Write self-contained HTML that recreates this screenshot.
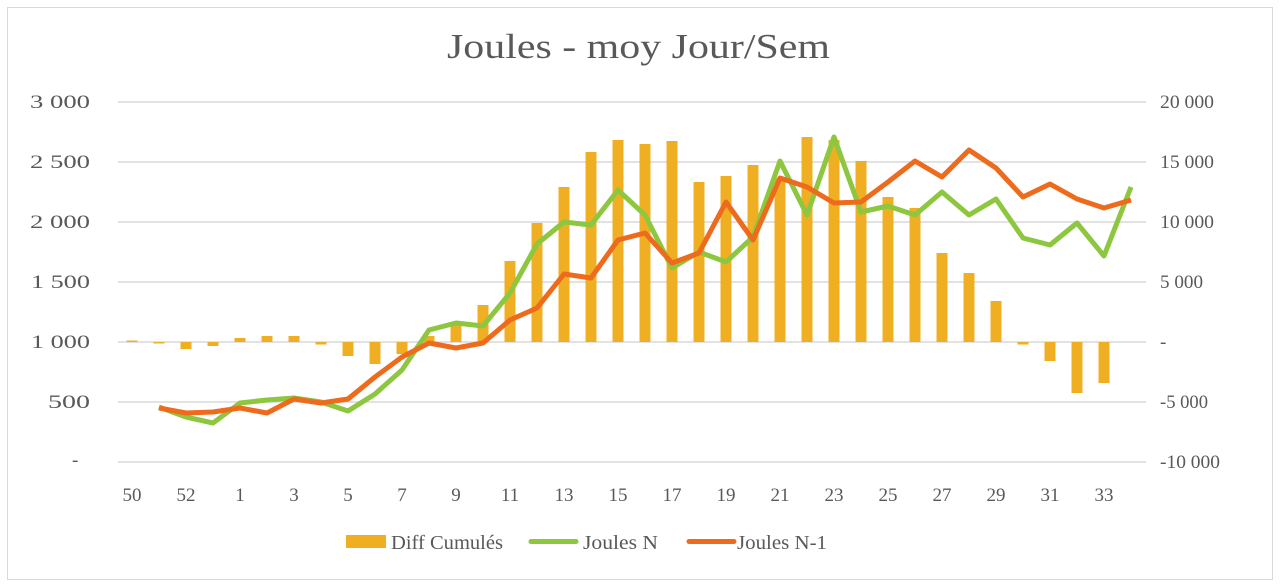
<!DOCTYPE html>
<html><head><meta charset="utf-8"><style>
html,body{margin:0;padding:0;background:#fff;}
svg{display:block;font-family:"Liberation Serif",serif;}
</style></head><body>
<svg width="1280" height="588" viewBox="0 0 1280 588" xmlns="http://www.w3.org/2000/svg">
<rect x="7.5" y="7.5" width="1265" height="572" fill="#fff" stroke="#d9d9d9"/>
<text x="447" y="58" font-size="35" fill="#595959" textLength="383" lengthAdjust="spacingAndGlyphs">Joules - moy Jour/Sem</text>
<g stroke="#d9d9d9" stroke-width="1.5">
<line x1="118" y1="102" x2="1146" y2="102"/><line x1="118" y1="162" x2="1146" y2="162"/>
<line x1="118" y1="222" x2="1146" y2="222"/><line x1="118" y1="282" x2="1146" y2="282"/>
<line x1="118" y1="342" x2="1146" y2="342"/><line x1="118" y1="402" x2="1146" y2="402"/>
<line x1="118" y1="462" x2="1146" y2="462"/>
</g>
<g font-size="19" fill="#595959">
<text x="30" y="108" textLength="60" lengthAdjust="spacingAndGlyphs">3 000</text>
<text x="30" y="168" textLength="60" lengthAdjust="spacingAndGlyphs">2 500</text>
<text x="30" y="228" textLength="60" lengthAdjust="spacingAndGlyphs">2 000</text>
<text x="31" y="288" textLength="59" lengthAdjust="spacingAndGlyphs">1 500</text>
<text x="31" y="348" textLength="59" lengthAdjust="spacingAndGlyphs">1 000</text>
<text x="48" y="408" textLength="42" lengthAdjust="spacingAndGlyphs">500</text>
<text x="72" y="466">-</text>
<text x="1160" y="108" textLength="54" lengthAdjust="spacingAndGlyphs">20 000</text>
<text x="1160" y="168" textLength="54" lengthAdjust="spacingAndGlyphs">15 000</text>
<text x="1160" y="228" textLength="54" lengthAdjust="spacingAndGlyphs">10 000</text>
<text x="1160" y="288" textLength="43" lengthAdjust="spacingAndGlyphs">5 000</text>
<text x="1160" y="348">-</text>
<text x="1160" y="408" textLength="48" lengthAdjust="spacingAndGlyphs">-5 000</text>
<text x="1160" y="468" textLength="60" lengthAdjust="spacingAndGlyphs">-10 000</text>
</g>
<g font-size="19" fill="#595959" text-anchor="middle">
<text x="132" y="501">50</text><text x="186" y="501">52</text><text x="240" y="501">1</text><text x="294" y="501">3</text>
<text x="348" y="501">5</text><text x="402" y="501">7</text><text x="456" y="501">9</text><text x="510" y="501">11</text>
<text x="564" y="501">13</text><text x="618" y="501">15</text><text x="672" y="501">17</text><text x="726" y="501">19</text>
<text x="780" y="501">21</text><text x="834" y="501">23</text><text x="888" y="501">25</text><text x="942" y="501">27</text>
<text x="996" y="501">29</text><text x="1050" y="501">31</text><text x="1104" y="501">33</text>
</g>
<g fill="#F0AF22">
<rect x="126.5" y="340.5" width="11" height="1.5"/>
<rect x="153.5" y="342" width="11" height="1.5"/>
<rect x="180.5" y="342" width="11" height="7"/>
<rect x="207.5" y="342" width="11" height="4"/>
<rect x="234.5" y="338" width="11" height="4"/>
<rect x="261.5" y="336" width="11" height="6"/>
<rect x="288.5" y="336" width="11" height="6"/>
<rect x="315.5" y="342" width="11" height="2.5"/>
<rect x="342.5" y="342" width="11" height="14"/>
<rect x="369.5" y="342" width="11" height="22"/>
<rect x="396.5" y="342" width="11" height="12"/>
<rect x="423.5" y="336" width="11" height="6"/>
<rect x="450.5" y="323" width="11" height="19"/>
<rect x="477.5" y="305" width="11" height="37"/>
<rect x="504.5" y="261" width="11" height="81"/>
<rect x="531.5" y="223" width="11" height="119"/>
<rect x="558.5" y="187" width="11" height="155"/>
<rect x="585.5" y="152" width="11" height="190"/>
<rect x="612.5" y="140" width="11" height="202"/>
<rect x="639.5" y="144" width="11" height="198"/>
<rect x="666.5" y="141" width="11" height="201"/>
<rect x="693.5" y="182" width="11" height="160"/>
<rect x="720.5" y="176" width="11" height="166"/>
<rect x="747.5" y="165" width="11" height="177"/>
<rect x="774.5" y="178" width="11" height="164"/>
<rect x="801.5" y="137" width="11" height="205"/>
<rect x="828.5" y="140" width="11" height="202"/>
<rect x="855.5" y="161" width="11" height="181"/>
<rect x="882.5" y="197" width="11" height="145"/>
<rect x="909.5" y="208" width="11" height="134"/>
<rect x="936.5" y="253" width="11" height="89"/>
<rect x="963.5" y="273" width="11" height="69"/>
<rect x="990.5" y="301" width="11" height="41"/>
<rect x="1017.5" y="342" width="11" height="2.5"/>
<rect x="1044.5" y="342" width="11" height="19"/>
<rect x="1071.5" y="342" width="11" height="51"/>
<rect x="1098.5" y="342" width="11" height="41"/>
</g>
<polyline fill="none" stroke="#8DC63F" stroke-width="5" stroke-linejoin="round" points="159,407 186,417 213,423 240,403 267,400 294,398 321,402 348,411 375,394 402,370 429,330 456,323 483,326 510,293 537,244 564,222 591,225 618,190 645,215 672,268 699,252 726,262 753,237 780,161 807,215 834,137 861,212 888,206 915,215 942,192 969,215 996,199 1023,238 1050,245 1077,223 1104,256 1131,187"/>
<polyline fill="none" stroke="#EE6A1C" stroke-width="5" stroke-linejoin="round" points="159,408 186,413 213,412 240,408 267,413 294,399 321,403 348,399 375,377 402,357 429,343 456,348 483,343 510,320 537,308 564,274 591,278 618,240 645,233 672,263 699,253 726,202 753,240 780,178 807,187 834,203 861,202 888,182 915,161 942,177 969,150 996,168 1023,197 1050,184 1077,199 1104,208 1131,200"/>
<rect x="346" y="535" width="40" height="13" fill="#F0AF22"/>
<text x="391" y="549" font-size="20" fill="#595959" textLength="112" lengthAdjust="spacingAndGlyphs">Diff Cumulés</text>
<line x1="531" y1="541.5" x2="576" y2="541.5" stroke="#8DC63F" stroke-width="5" stroke-linecap="round"/>
<text x="583" y="549" font-size="20" fill="#595959" textLength="75" lengthAdjust="spacingAndGlyphs">Joules N</text>
<line x1="689" y1="541.5" x2="734" y2="541.5" stroke="#EE6A1C" stroke-width="5" stroke-linecap="round"/>
<text x="737" y="549" font-size="20" fill="#595959" textLength="90" lengthAdjust="spacingAndGlyphs">Joules N-1</text>
</svg>
</body></html>
